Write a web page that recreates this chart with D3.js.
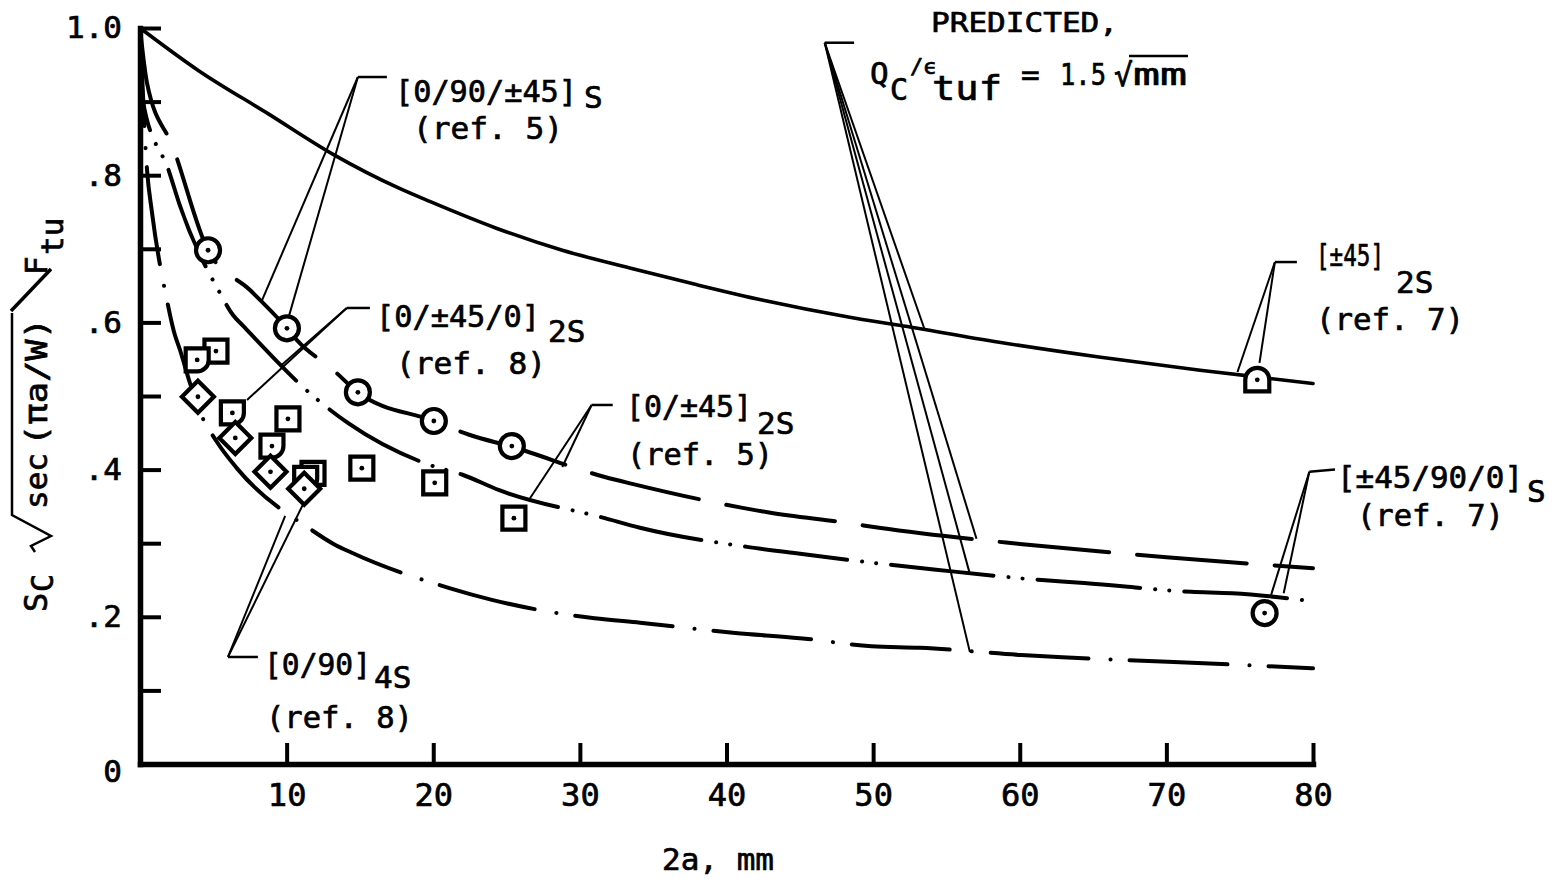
<!DOCTYPE html>
<html>
<head>
<meta charset="utf-8">
<script src="https://cdn.jsdelivr.net/npm/d3@7"></script>
<style>
  body { margin: 0; background: #fff; }
  svg { display: block; }
  text { font-family: 'DejaVu Sans Mono', 'Liberation Mono', monospace; fill: #000; stroke: #000; stroke-width: 0.7px; }
</style>
</head>
<body>
<svg id="chart" width="1560" height="879"></svg>
<script>
// ---- Predicted curves: [2a (mm), Sc*sqrt(sec(pi a/W))/Ftu] ----
const curveSolid = [[0,1.0],[4,0.942],[8.7,0.884],[13.2,0.828],[17.7,0.782],[19.8,0.764],[24.3,0.728],
  [28.8,0.698],[33.4,0.674],[38,0.651],[42.5,0.630],[48.4,0.607],[51.8,0.596],[58.6,0.573],
  [65.4,0.553],[72.3,0.535],[80,0.517]];
const curveLongDash = [[0,1.0],[0.48,0.925],[2.25,0.838],[4.64,0.698],[7.5,0.644],[9.34,0.607],
  [10.02,0.592],[10.7,0.576],[13.2,0.535],[14.86,0.505],[20.04,0.466],[22.5,0.447],[25.36,0.431],
  [31.7,0.390],[33.5,0.381],[41.1,0.348],[42.8,0.342],[48.4,0.327],[50.4,0.321],[60,0.299],
  [70,0.281],[80,0.266]];
const curveDashDotDot = [[0,1.0],[0.2,0.90],[2.0,0.804],[2.7,0.76],[5.45,0.64],[6.34,0.61],[7.0,0.596],
  [12.1,0.495],[14.2,0.463],[19.8,0.406],[22.0,0.393],[24.5,0.372],[31.7,0.334],[34.1,0.321],
  [41.4,0.295],[44.5,0.287],[48.4,0.277],[51.5,0.270],[54.3,0.264],[61.5,0.250],[64.4,0.246],
  [71.7,0.234],[74.5,0.232],[80,0.221]];
const curveDashDot = [[0,1.0],[0.48,0.807],[0.82,0.749],[1.84,0.630],[2.32,0.587],[2.73,0.5625],
  [3.4,0.518],[4.1,0.478],[5.25,0.4375],[6.6,0.402],[11.7,0.318],[13.2,0.299],[14.45,0.287],
  [21.1,0.239],[24.0,0.223],[31.0,0.198],[34.1,0.192],[40.6,0.178],[45,0.171],[49.9,0.160],
  [53.2,0.158],[60.1,0.148],[62.9,0.145],[70.1,0.139],[80,0.130]];

// ---- Test data ----
const ref5Circles  = [[4.64,0.698],[10.02,0.592],[14.86,0.505],[20.04,0.466],[25.36,0.432]]; // [0/90/±45]s
const ref5Squares  = [[5.18,0.561],[10.09,0.469],[11.8,0.395],[15.13,0.402],[20.1,0.382],[25.5,0.334]]; // [0/±45]2s
const ref8Quarter  = [[3.9,0.549],[6.3,0.477],[9.0,0.432],[11.3,0.388]]; // [0/±45/0]2s
const ref8Diamonds = [[3.95,0.499],[6.5,0.443],[8.9,0.397],[11.2,0.374]]; // [0/90]4s
const ref7Dome     = [[76.2,0.522]];  // [±45]2s
const ref7Circle   = [[76.7,0.205]];  // [±45/90/0]s

// ---- Axes ----
const xTicks = [10,20,30,40,50,60,70,80];
const yTicks = [0,0.1,0.2,0.3,0.4,0.5,0.6,0.7,0.8,0.9,1.0];
const yTickLabels = new Map([[0,"0"],[0.2,".2"],[0.4,".4"],[0.6,".6"],[0.8,".8"],[1.0,"1.0"]]);

// ---- Leader lines (data units): corner, tail toward label, targets ----
const leaderPredicted = {corner:[46.7,0.980], tail:[48.7,0.980], targets:[[53.5,0.591],[57.05,0.306],[56.6,0.258],[56.6,0.152]]};
const leader0_90_45   = {corner:[14.86,0.9334], tail:[16.84,0.9334], targets:[[8.32,0.630],[10.02,0.599]]};
const leader0_45_0    = {corner:[14.1,0.6196], tail:[15.68,0.6196], targets:[[7.3,0.4946],[9.54,0.540]]};
const leader0_45      = {corner:[30.8,0.4878], tail:[32.24,0.4878], targets:[[26.6,0.361],[28.8,0.4035]]};
const leader0_90      = {corner:[6.0,0.1454], tail:[8.04,0.1454], targets:[[9.9,0.337],[11.1,0.352]]};
const leader45        = {corner:[77.4,0.682], tail:[78.9,0.682], targets:[[74.85,0.5326],[76.35,0.545]]};
const leader45_90_0   = {corner:[79.75,0.397], tail:[81.5,0.400], targets:[[77.1,0.227],[78.0,0.232]]};

const svg = d3.select("#chart");
const x = d3.scaleLinear().domain([0, 80]).range([140, 1313]);
const y = d3.scaleLinear().domain([0, 1]).range([764, 28]);
const FONT = "'DejaVu Sans Mono', 'Liberation Mono', monospace";

// curves
const line = d3.line().x(d => x(d[0])).y(d => y(d[1])).curve(d3.curveMonotoneX);
const curveLayer = svg.append("g").attr("fill", "none").attr("stroke", "#000")
  .attr("stroke-width", 4).attr("stroke-linecap", "round");
curveLayer.append("path").attr("d", line(curveSolid)).attr("stroke-width", 3.6);
curveLayer.append("path").attr("d", line(curveLongDash)).attr("stroke-dasharray", "110,28");
curveLayer.append("path").attr("d", line(curveDashDotDot)).attr("stroke-dasharray", "103,15,0.1,14,0.1,15");
curveLayer.append("path").attr("d", line(curveDashDot)).attr("stroke-dasharray", "98,22,0.1,19");

// axes
const yAxis = d3.axisLeft(y).tickValues(yTicks).tickSizeInner(-21).tickSizeOuter(0)
  .tickPadding(18).tickFormat(d => yTickLabels.get(d) ?? "");
const gy = svg.append("g").attr("transform", `translate(${x(0)},0)`).call(yAxis)
  .attr("font-family", FONT).attr("font-size", 31);
gy.select(".domain").attr("stroke-width", 5.5).attr("stroke-linecap", "square");
gy.selectAll(".tick line").attr("stroke-width", 4);
gy.selectAll(".tick text").filter(d => d === 0).attr("dy", "0.55em");

const xAxis = d3.axisBottom(x).tickValues(xTicks).tickSizeInner(-21).tickSizeOuter(0)
  .tickPadding(19).tickFormat(d3.format("d"));
const gx = svg.append("g").attr("transform", `translate(0,${y(0)})`).call(xAxis)
  .attr("font-family", FONT).attr("font-size", 32);
gx.select(".domain").attr("stroke-width", 5.5).attr("stroke-linecap", "square");
gx.selectAll(".tick line").attr("stroke-width", 4);

// leader lines
const leaderLayer = svg.append("g").attr("fill", "none").attr("stroke", "#000").attr("stroke-width", 2);
[leaderPredicted, leader0_90_45, leader0_45_0, leader0_45, leader0_90, leader45, leader45_90_0].forEach(l => {
  const c = [x(l.corner[0]), y(l.corner[1])];
  leaderLayer.append("path").attr("d", `M${x(l.tail[0])},${y(l.tail[1])}L${c[0]},${c[1]}`).attr("stroke-width", 2.5);
  l.targets.forEach(t => leaderLayer.append("path").attr("d", `M${c[0]},${c[1]}L${x(t[0])},${y(t[1])}`));
});

// markers
const markLayer = svg.append("g").attr("stroke", "#000").attr("stroke-width", 4.2).attr("fill", "#fff");
function centerDots(data) {
  markLayer.selectAll(null).data(data).enter().append("circle")
    .attr("cx", d => x(d[0])).attr("cy", d => y(d[1])).attr("r", 2.4)
    .attr("fill", "#000").attr("stroke", "none");
}
function shapes(data, pathStr) {
  markLayer.selectAll(null).data(data).enter().append("path")
    .attr("transform", d => `translate(${x(d[0])},${y(d[1])})`).attr("d", pathStr)
    .attr("stroke-linejoin", "miter");
  centerDots(data);
}
const SQUARE  = "M-11.5,-11.5H11.5V11.5H-11.5Z";
const DIAMOND = "M0,-16L16,0L0,16L-16,0Z";
const QUARTER = "M-11.5,-11.5H11.5V0A11.5,11.5 0 0 1 0,11.5H-11.5Z";
const DOME    = "M-12,11.5V0A12,12 0 0 1 12,0V11.5Z";

shapes(ref5Squares, SQUARE);
shapes(ref8Quarter, QUARTER);
shapes(ref8Diamonds, DIAMOND);
shapes(ref7Dome, DOME);
[ref5Circles, ref7Circle].forEach(data => {
  markLayer.selectAll(null).data(data).enter().append("circle")
    .attr("cx", d => x(d[0])).attr("cy", d => y(d[1])).attr("r", 12);
  centerDots(data);
});

// text helper
function txt(str, px, py, size, opts = {}) {
  const t = svg.append("text").attr("x", px).attr("y", py).attr("font-size", size).text(str);
  if (opts.anchor) t.attr("text-anchor", opts.anchor);
  if (opts.len) t.attr("textLength", opts.len).attr("lengthAdjust", "spacingAndGlyphs");
  return t;
}

// laminate labels
txt("[0/90/±45]", 395, 102, 31, {len: 182}); txt("S", 584, 108, 31); txt("(ref. 5)", 413, 139, 31, {len: 150});
txt("[0/±45/0]", 376, 327, 31, {len: 164});  txt("2S", 548, 342, 31); txt("(ref. 8)", 396, 374, 31, {len: 150});
txt("[0/±45]", 626, 417, 31, {len: 126});    txt("2S", 757, 434, 31); txt("(ref. 5)", 627, 465, 31, {len: 146});
txt("[±45]", 1316, 266, 30, {len: 68});      txt("2S", 1396, 293, 31); txt("(ref. 7)", 1316, 330, 31, {len: 148});
txt("[±45/90/0]", 1337, 488, 31, {len: 186}); txt("S", 1527, 502, 31); txt("(ref. 7)", 1357, 526, 31, {len: 147});
txt("[0/90]", 264, 675, 31, {len: 107});     txt("4S", 374, 688, 31); txt("(ref. 8)", 266, 728, 31, {len: 147});

// predicted caption
txt("PREDICTED,", 931, 32, 26, {len: 187});
txt("Q", 870, 84, 31);
txt("C", 890, 100, 30);
txt("/ϵ", 910, 74, 22);
txt("tuf", 932, 100, 33, {len: 70});
txt("=", 1021, 85, 31);
txt("1.5", 1060, 85, 31, {len: 46});
txt("√", 1114, 86, 31);
txt("mm", 1133, 85, 31, {len: 54});
svg.append("line").attr("x1", 1129).attr("x2", 1188).attr("y1", 56).attr("y2", 56)
  .attr("stroke", "#000").attr("stroke-width", 2.5);

// x title
txt("2a, mm", 718, 870, 31, {anchor: "middle"});

// y title (rotated)
const yt = svg.append("g").attr("transform", "translate(47,612) rotate(-90)");
yt.append("text").attr("x", 0).attr("y", 0).attr("font-size", 32).text("S");
yt.append("text").attr("x", 20).attr("y", 6).attr("font-size", 30).text("C");
yt.append("path").attr("d", "M60,-12L66,-16L76,4L97,-35H299")
  .attr("fill", "none").attr("stroke", "#000").attr("stroke-width", 2.5);
yt.append("text").attr("x", 103).attr("y", 0).attr("font-size", 31).text("sec");
yt.append("text").attr("x", 166).attr("y", 0).attr("font-size", 31)
  .attr("textLength", 128).attr("lengthAdjust", "spacingAndGlyphs").text("(πa/W)");
yt.append("path").attr("d", "M301,-36L343,4")
  .attr("fill", "none").attr("stroke", "#000").attr("stroke-width", 3.5);
yt.append("text").attr("x", 337).attr("y", 0).attr("font-size", 31).text("F");
yt.append("text").attr("x", 357).attr("y", 16).attr("font-size", 31).text("tu");
</script>
</body>
</html>
